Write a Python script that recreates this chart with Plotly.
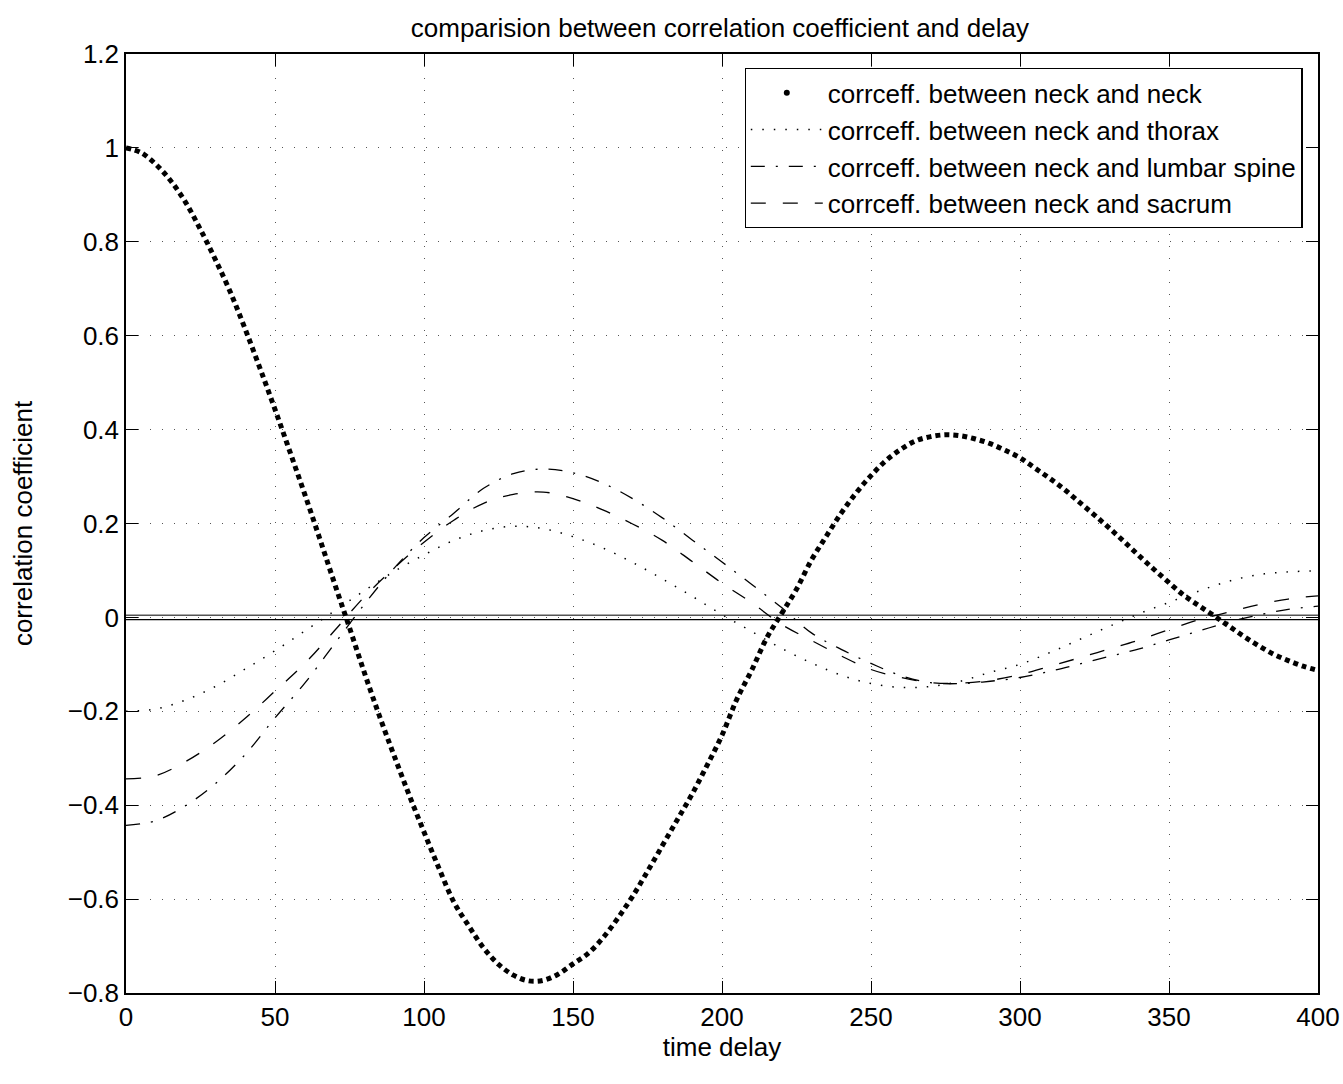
import plotly.graph_objects as go

# ---- data ----
lag5 = list(range(0, 405, 5))
neck_neck = [1.000, 0.990, 0.965, 0.930, 0.884, 0.826, 0.762, 0.693, 0.614, 0.530,
             0.443, 0.353, 0.262, 0.168, 0.072, -0.022, -0.118, -0.209, -0.295, -0.378,
             -0.457, -0.534, -0.606, -0.657, -0.704, -0.739, -0.762, -0.774, -0.773, -0.760,
             -0.738, -0.716, -0.683, -0.641, -0.594, -0.541, -0.486, -0.431, -0.376, -0.315,
             -0.251, -0.174, -0.112, -0.044, 0.008, 0.060, 0.122, 0.173, 0.222, 0.265,
             0.302, 0.334, 0.358, 0.376, 0.385, 0.389, 0.387, 0.380, 0.370, 0.356,
             0.340, 0.318, 0.296, 0.272, 0.245, 0.218, 0.190, 0.161, 0.131, 0.102,
             0.074, 0.047, 0.025, 0.004, -0.018, -0.040, -0.060, -0.078, -0.092, -0.104,
             -0.113]

lag10 = list(range(0, 410, 10))
neck_thorax = [-0.200, -0.195, -0.176, -0.147, -0.110, -0.071, -0.029, 0.014, 0.057, 0.098,
               0.133, 0.164, 0.185, 0.194, 0.189, 0.172, 0.148, 0.117, 0.082, 0.045,
               0.006, -0.030, -0.066, -0.097, -0.123, -0.141, -0.149, -0.147, -0.136, -0.117,
               -0.100, -0.075, -0.047, -0.019, 0.008, 0.032, 0.056, 0.077, 0.091, 0.097,
               0.099]
neck_lumbar = [-0.443, -0.433, -0.401, -0.354, -0.292, -0.214, -0.140, -0.056, 0.028, 0.105,
               0.170, 0.222, 0.275, 0.306, 0.316, 0.308, 0.286, 0.253, 0.212, 0.165,
               0.118, 0.070, 0.021, -0.033, -0.068, -0.098, -0.124, -0.139, -0.141, -0.136,
               -0.128, -0.115, -0.099, -0.083, -0.067, -0.048, -0.029, -0.010, 0.005, 0.017,
               0.024]
neck_sacrum = [-0.344, -0.337, -0.307, -0.266, -0.215, -0.157, -0.098, -0.028, 0.044, 0.105,
               0.160, 0.207, 0.243, 0.262, 0.267, 0.253, 0.229, 0.199, 0.164, 0.119,
               0.073, 0.031, -0.015, -0.049, -0.082, -0.111, -0.128, -0.139, -0.140, -0.134,
               -0.122, -0.104, -0.086, -0.067, -0.048, -0.026, -0.005, 0.011, 0.027, 0.039,
               0.046]

bound_x = [0, 400]
bound_upper = [0.0045, 0.0045]
bound_lower = [-0.0048, -0.0048]

names = ["corrceff. between neck and neck",
         "corrceff. between neck and thorax",
         "corrceff. between neck and lumbar spine",
         "corrceff. between neck and sacrum"]

x_ticks = [0, 50, 100, 150, 200, 250, 300, 350, 400]
y_ticks = [-0.8, -0.6, -0.4, -0.2, 0, 0.2, 0.4, 0.6, 0.8, 1, 1.2]
y_tick_text = ["\u22120.8", "\u22120.6", "\u22120.4", "\u22120.2", "0", "0.2", "0.4", "0.6", "0.8", "1", "1.2"]

FONT = "Liberation Sans, Arial, Helvetica, sans-serif"
FS = 26

fig = go.Figure()

# confidence-like horizontal lines
fig.add_trace(go.Scatter(x=bound_x, y=bound_upper, mode="lines",
                         line=dict(color="#555555", width=1.6), showlegend=False, hoverinfo="skip"))
fig.add_trace(go.Scatter(x=bound_x, y=bound_lower, mode="lines",
                         line=dict(color="black", width=1.3), showlegend=False, hoverinfo="skip"))

# neck-neck: dense dotted curve
fig.add_trace(go.Scatter(x=lag5, y=neck_neck, mode="lines", line_shape="spline",
                         line=dict(color="black", width=5, dash="5px,4px"),
                         showlegend=False, name=names[0]))
# legend entry for neck-neck (marker only)
fig.add_trace(go.Scatter(x=[None], y=[None], mode="markers",
                         marker=dict(color="black", size=6), name=names[0]))

fig.add_trace(go.Scatter(x=lag10, y=neck_thorax, mode="lines", line_shape="spline",
                         line=dict(color="black", width=1.5, dash="1.5px,10px"), name=names[1]))
fig.add_trace(go.Scatter(x=lag10, y=neck_lumbar, mode="lines", line_shape="spline",
                         line=dict(color="black", width=1.3, dash="14px,11px,2px,11px"), name=names[2]))
fig.add_trace(go.Scatter(x=lag10, y=neck_sacrum, mode="lines", line_shape="spline",
                         line=dict(color="black", width=1.3, dash="15px,17px"), name=names[3]))

axis_common = dict(showline=True, linecolor="black", linewidth=1.5, mirror="ticks",
                   ticks="inside", ticklen=12, tickwidth=1, tickcolor="black",
                   showgrid=True, gridcolor="#555555", gridwidth=1, griddash="1px,11px",
                   zeroline=False, automargin=False,
                   tickfont=dict(family=FONT, size=FS, color="black"))

fig.update_layout(
    width=1343, height=1084,
    paper_bgcolor="white", plot_bgcolor="white",
    margin=dict(l=126, r=25, t=54, b=91, autoexpand=False),
    font=dict(family=FONT, color="black"),
    title=dict(text="comparision between correlation coefficient and delay",
               font=dict(family=FONT, size=FS, color="black"),
               x=0.536, xanchor="center", y=0.974, yanchor="middle", yref="container",
               automargin=False),
    xaxis=dict(range=[0, 400], tickvals=x_ticks, ticktext=[str(v) for v in x_ticks],
               title=dict(text="time delay", font=dict(family=FONT, size=FS, color="black"), standoff=6),
               **axis_common),
    yaxis=dict(range=[-0.8, 1.2], tickvals=y_ticks, ticktext=y_tick_text,
               title=dict(text="correlation coefficient", font=dict(family=FONT, size=FS, color="black"), standoff=28),
               **axis_common),
    legend=dict(x=0.987, xanchor="right", y=0.985, yanchor="top",
                bgcolor="white", bordercolor="black", borderwidth=1.3,
                font=dict(family=FONT, size=26, color="black"),
                itemwidth=72, tracegroupgap=0),
    showlegend=True,
)

fig.write_html("out.html")
